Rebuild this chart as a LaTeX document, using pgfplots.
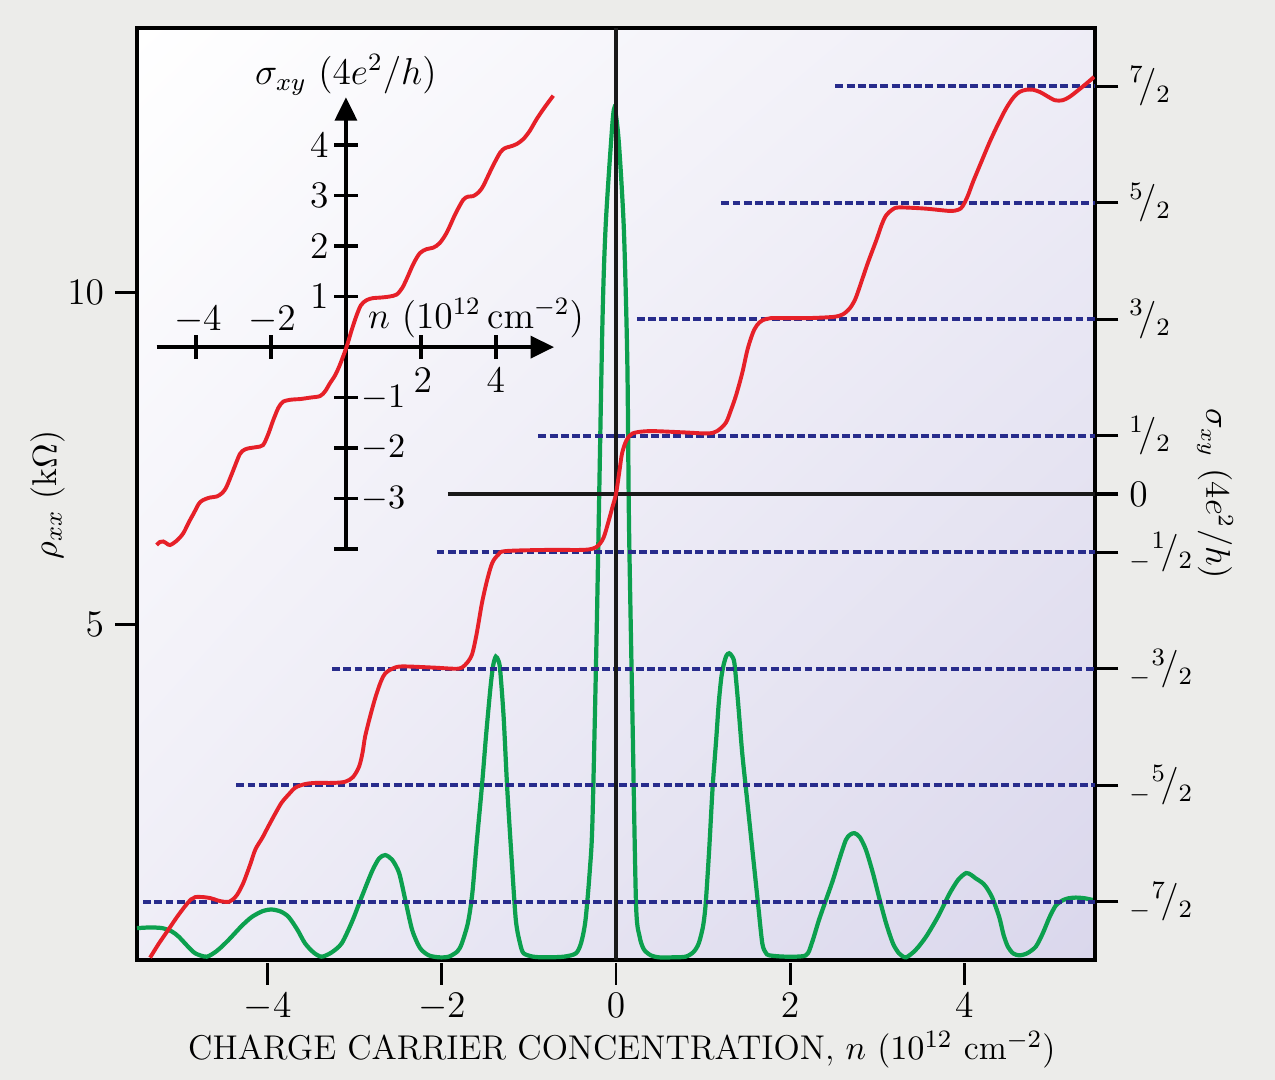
\documentclass[border=0pt]{standalone}
\usepackage{pgfplots}
\pgfplotsset{compat=1.18}
\usetikzlibrary{arrows.meta,shadings}
\definecolor{bggray}{RGB}{236,236,234}
\definecolor{lav}{RGB}{218,215,236}
\definecolor{cred}{RGB}{230,32,40}
\definecolor{cgreen}{RGB}{12,160,78}
\definecolor{cblue}{RGB}{40,44,140}
\newcommand\hf[1]{$^{#1}\!/_{2}$}
\newcommand\nhf[1]{${}_{-}{}^{#1}\!/_{2}$}

\pgfplotstableread{
x y
-5.50 0.42
-5.35 0.43
-5.21 0.42
-5.10 0.37
-5.02 0.29
-4.92 0.15
-4.83 0.04
-4.70 -0.01
-4.58 0.08
-4.45 0.24
-4.30 0.45
-4.18 0.59
-4.05 0.68
-3.95 0.70
-3.85 0.67
-3.76 0.59
-3.66 0.40
-3.57 0.19
-3.47 0.05
-3.38 -0.01
-3.27 0.05
-3.15 0.19
-3.03 0.52
-2.92 0.89
-2.80 1.28
-2.72 1.47
-2.65 1.52
-2.57 1.45
-2.49 1.25
-2.42 0.85
-2.34 0.39
-2.25 0.12
-2.15 0.01
-2.03 -0.02
-1.92 -0.01
-1.82 0.07
-1.77 0.19
-1.70 0.50
-1.65 0.94
-1.60 1.70
-1.54 2.55
-1.49 3.35
-1.44 4.06
-1.41 4.38
-1.38 4.51
-1.35 4.45
-1.33 4.31
-1.29 3.60
-1.25 2.55
-1.20 1.50
-1.15 0.54
-1.10 0.18
-1.06 0.04
-0.95 -0.01
-0.81 -0.02
-0.60 -0.01
-0.46 0.04
-0.40 0.20
-0.35 0.54
-0.30 1.30
-0.27 2.05
-0.22 5.00
-0.157 9.46
-0.12 10.96
-0.06 12.2
-0.02 12.77
0.03 12.3
0.09 10.96
0.13 8.96
0.15 6.45
0.19 3.55
0.23 0.79
0.27 0.30
0.32 0.10
0.40 0.01
0.49 -0.02
0.65 -0.02
0.80 -0.01
0.89 0.06
0.95 0.19
1.00 0.45
1.03 0.79
1.07 1.60
1.11 2.55
1.15 3.25
1.18 3.81
1.21 4.20
1.24 4.41
1.27 4.53
1.30 4.56
1.33 4.52
1.36 4.41
1.40 3.85
1.45 3.05
1.51 2.30
1.57 1.55
1.63 0.80
1.68 0.19
1.72 0.05
1.76 0.01
1.95 -0.01
2.18 0.01
2.25 0.20
2.33 0.54
2.41 0.84
2.49 1.14
2.57 1.48
2.64 1.75
2.69 1.83
2.74 1.85
2.80 1.79
2.87 1.60
2.95 1.25
3.02 0.89
3.10 0.50
3.18 0.19
3.25 0.04
3.33 -0.02
3.44 0.09
3.56 0.29
3.70 0.60
3.83 0.94
3.93 1.15
4.02 1.25
4.08 1.22
4.13 1.17
4.20 1.11
4.25 1.04
4.32 0.88
4.40 0.59
4.45 0.32
4.50 0.14
4.56 0.04
4.63 0.01
4.72 0.04
4.82 0.14
4.90 0.34
4.98 0.59
5.05 0.76
5.13 0.84
5.20 0.87
5.28 0.88
5.38 0.87
5.49 0.84
}\rhodata

\pgfplotstableread{
x y
-5.35 -3.98
-5.25 -3.86
-5.14 -3.74
-5.04 -3.63
-4.95 -3.54
-4.88 -3.48
-4.83 -3.46
-4.74 -3.46
-4.65 -3.47
-4.57 -3.49
-4.50 -3.50
-4.44 -3.50
-4.40 -3.48
-4.35 -3.44
-4.28 -3.34
-4.20 -3.18
-4.14 -3.05
-4.06 -2.95
-3.99 -2.85
-3.91 -2.74
-3.84 -2.65
-3.76 -2.58
-3.68 -2.52
-3.57 -2.49
-3.45 -2.48
-3.25 -2.48
-3.11 -2.47
-3.02 -2.43
-2.95 -2.34
-2.91 -2.22
-2.88 -2.08
-2.82 -1.90
-2.76 -1.74
-2.70 -1.61
-2.65 -1.54
-2.57 -1.50
-2.46 -1.48
-2.10 -1.49
-1.85 -1.50
-1.77 -1.49
-1.70 -1.44
-1.65 -1.37
-1.60 -1.20
-1.54 -0.94
-1.48 -0.74
-1.42 -0.59
-1.35 -0.52
-1.27 -0.49
-0.80 -0.48
-0.40 -0.48
-0.27 -0.47
-0.20 -0.44
-0.14 -0.37
-0.08 -0.22
-0.04 -0.11
0.00 0.00
0.04 0.20
0.07 0.35
0.12 0.46
0.19 0.52
0.38 0.54
0.75 0.53
1.05 0.52
1.16 0.54
1.26 0.61
1.32 0.72
1.38 0.85
1.45 1.04
1.51 1.24
1.57 1.38
1.62 1.45
1.68 1.49
1.78 1.51
1.91 1.51
2.20 1.51
2.49 1.52
2.60 1.54
2.68 1.59
2.74 1.66
2.79 1.76
2.89 1.98
2.99 2.18
3.05 2.31
3.10 2.39
3.17 2.44
3.25 2.46
3.55 2.45
3.83 2.43
3.93 2.44
3.98 2.47
4.04 2.56
4.10 2.68
4.20 2.86
4.29 3.02
4.39 3.18
4.48 3.31
4.56 3.40
4.63 3.45
4.71 3.47
4.79 3.47
4.87 3.45
4.94 3.42
5.04 3.38
5.13 3.38
5.21 3.41
5.28 3.45
5.38 3.51
5.49 3.58
}\sigmadata

\pgfplotstableread{
x y
-5.05 -3.92
-4.96 -3.86
-4.87 -3.85
-4.78 -3.89
-4.69 -3.92
-4.52 -3.84
-4.34 -3.69
-4.19 -3.47
-4.05 -3.28
-3.92 -3.10
-3.81 -3.03
-3.63 -2.98
-3.45 -2.96
-3.30 -2.89
-3.18 -2.76
-3.00 -2.43
-2.83 -2.12
-2.70 -2.03
-2.56 -2.00
-2.38 -1.98
-2.21 -1.94
-2.07 -1.72
-1.94 -1.45
-1.80 -1.20
-1.67 -1.08
-1.45 -1.04
-1.23 -1.03
-0.95 -1.00
-0.69 -0.97
-0.55 -0.87
-0.43 -0.72
-0.29 -0.56
-0.16 -0.35
0.02 0.01
0.15 0.33
0.28 0.62
0.40 0.83
0.55 0.93
0.72 0.97
0.91 0.98
1.15 1.00
1.35 1.04
1.50 1.17
1.62 1.35
1.80 1.65
1.97 1.86
2.15 1.94
2.33 1.97
2.50 2.06
2.69 2.27
2.92 2.64
3.13 2.92
3.26 2.98
3.39 2.99
3.53 3.06
3.66 3.19
3.90 3.56
4.11 3.85
4.24 3.94
4.37 3.97
4.55 4.02
4.73 4.12
4.90 4.28
5.09 4.52
5.30 4.75
5.53 4.98
}\insetdata

\begin{document}
\begin{tikzpicture}
\fill[bggray] (0,0) rectangle (408pt,345.6pt);
\useasboundingbox (0,0) rectangle (408pt,345.6pt);

% left axis: rho_xx
\begin{axis}[
  at={(43.84pt,38.4pt)}, anchor=south west, scale only axis,
  width=306.56pt, height=298.24pt,
  xmin=-5.5, xmax=5.5, ymin=-0.06, ymax=13.98,
  axis background/.style={shade, upper left=white, lower right=lav,
     upper right=lav!45!white, lower left=lav!45!white},
  xtick={-4,-2,0,2,4}, ytick={5,10},
  xtick pos=bottom, ytick pos=left, tick align=outside,
  major tick length=7pt,
  every tick/.style={black, line width=0.9pt},
  xtick style={yshift=-1pt},
  axis line style={line width=1pt},
  tick label style={font=\fontsize{11.5}{13}\selectfont},
]
\addplot[cgreen, line width=1.35pt, smooth, tension=0.45] table {\rhodata};
\end{axis}

% right axis: sigma_xy
\begin{axis}[
  at={(43.84pt,38.4pt)}, anchor=south west, scale only axis,
  width=306.56pt, height=298.24pt,
  xmin=-5.5, xmax=5.5, ymin=-4, ymax=4,
  axis x line=none, axis y line*=right,
  ytick={-3.5,-2.5,-1.5,-0.5,0,0.5,1.5,2.5,3.5},
  yticklabels={\nhf{7},\nhf{5},\nhf{3},\nhf{1},$0$,\hf{1},\hf{3},\hf{5},\hf{7}},
  tick align=outside, major tick length=7.5pt,
  every tick/.style={black, line width=1pt},
  axis line style={line width=1pt},
  tick label style={font=\fontsize{11.5}{13}\selectfont},
]
\addplot[cblue, line width=1.25pt, dash pattern=on 2.5pt off 1.1pt] coordinates {(2.52,3.5) (5.5,3.5)};
\addplot[cblue, line width=1.25pt, dash pattern=on 2.5pt off 1.1pt] coordinates {(1.21,2.5) (5.5,2.5)};
\addplot[cblue, line width=1.25pt, dash pattern=on 2.5pt off 1.1pt] coordinates {(0.24,1.5) (5.5,1.5)};
\addplot[cblue, line width=1.25pt, dash pattern=on 2.5pt off 1.1pt] coordinates {(-0.89,0.5) (5.5,0.5)};
\addplot[cblue, line width=1.25pt, dash pattern=on 2.5pt off 1.1pt] coordinates {(-2.06,-0.5) (5.5,-0.5)};
\addplot[cblue, line width=1.25pt, dash pattern=on 2.5pt off 1.1pt] coordinates {(-3.26,-1.5) (5.5,-1.5)};
\addplot[cblue, line width=1.25pt, dash pattern=on 2.5pt off 1.1pt] coordinates {(-4.36,-2.5) (5.5,-2.5)};
\addplot[cblue, line width=1.25pt, dash pattern=on 2.5pt off 1.1pt] coordinates {(-5.43,-3.5) (5.5,-3.5)};
\addplot[black!90, line width=1pt] coordinates {(-1.93,0) (5.5,0)};
\addplot[black!90, line width=1pt] coordinates {(0,-4) (0,4)};
\addplot[cred, line width=1.25pt, smooth, tension=0.5] table {\sigmadata};
\end{axis}

% inset
\begin{axis}[
  at={(50.1pt,169.9pt)}, anchor=south west, scale only axis,
  width=127.2pt, height=144.6pt,
  xmin=-5.05, xmax=5.55, ymin=-4, ymax=4.95,
  axis lines=middle,
  axis line style={line width=1.2pt},
  every inner x axis line/.append style={-{Triangle[length=7.5pt,width=7pt]}},
  every inner y axis line/.append style={-{Triangle[length=7.5pt,width=7pt]}},
  xtick={-4,-2,2,4}, ytick={-3,-2,-1,1,2,3,4},
  extra y ticks={-4}, extra y tick labels={},
  xticklabels={}, yticklabels={},
  tick align=center, major tick length=7.5pt,
  every tick/.style={black, line width=1.1pt},
  clip=false,
]
\addplot[cred, line width=1.25pt, smooth, tension=0.5] table {\insetdata};
\begin{scope}[font=\fontsize{11.5}{13}\selectfont]
\node at (axis cs:-3.95,0.53) {$-4$};
\node at (axis cs:-1.97,0.53) {$-2$};
\node at (axis cs:2.05,-0.65) {$2$};
\node at (axis cs:4,-0.65) {$4$};
\node[anchor=east, inner sep=0pt] at (axis cs:-0.45,1) {$1$};
\node[anchor=east, inner sep=0pt] at (axis cs:-0.45,2) {$2$};
\node[anchor=east, inner sep=0pt] at (axis cs:-0.45,3) {$3$};
\node[anchor=east, inner sep=0pt] at (axis cs:-0.45,4) {$4$};
\end{scope}
\begin{scope}[font=\fontsize{10.5}{12}\selectfont]
\node[anchor=west, inner sep=0pt] at (axis cs:0.4,-1) {$-1$};
\node[anchor=west, inner sep=0pt] at (axis cs:0.4,-2) {$-2$};
\node[anchor=west, inner sep=0pt] at (axis cs:0.4,-3) {$-3$};
\end{scope}
\begin{scope}[font=\fontsize{11.5}{13}\selectfont]
\node at (axis cs:0,5.39) {$\sigma_{xy}$ $(4e^2/h)$};
\node at (axis cs:3.47,0.57) {$n$ $(10^{12}\,\mathrm{cm}^{-2})$};
\end{scope}
\end{axis}

\node[rotate=90, font=\fontsize{11}{13}\selectfont] at (15.36pt,187.2pt) {$\rho_{xx}$ (k$\Omega$)};
\node[rotate=-90, font=\fontsize{10.5}{13}\selectfont] at (388.8pt,187.5pt) {$\sigma_{xy}$ $(4e^2/h)$};
\node[font=\fontsize{11}{13}\selectfont] at (199pt,9.6pt) {CHARGE CARRIER CONCENTRATION, $n$ ($10^{12}$ cm$^{-2}$)};
\end{tikzpicture}
\end{document}
